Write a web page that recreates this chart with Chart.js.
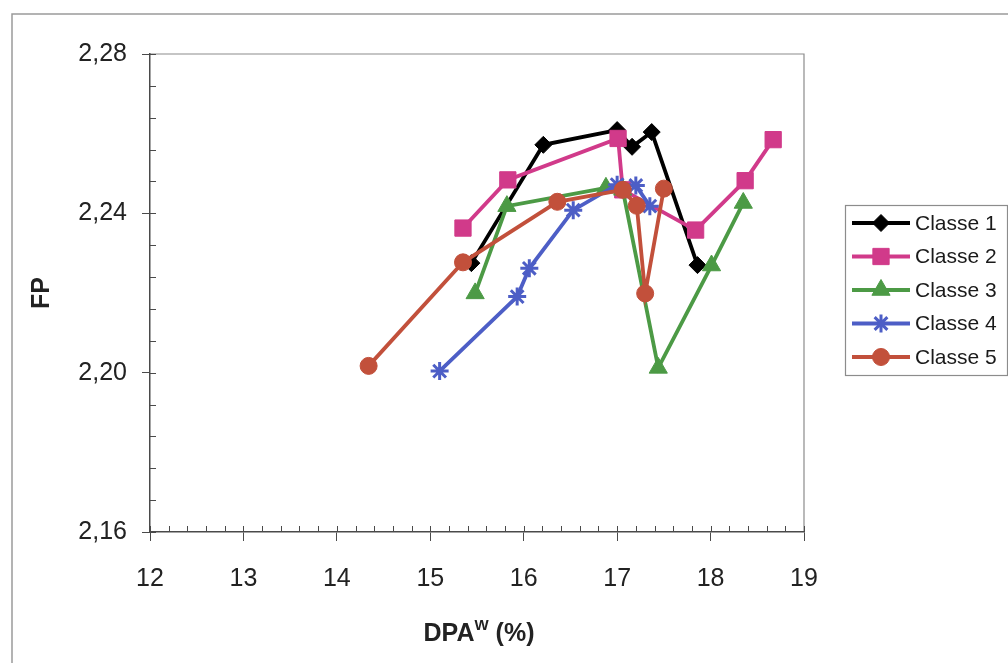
<!DOCTYPE html>
<html>
<head>
<meta charset="utf-8">
<style>
  html, body { margin: 0; padding: 0; background: #fff; }
  #wrap { width: 1008px; height: 663px; position: relative; }
</style>
<script src="https://cdn.jsdelivr.net/npm/chart.js@4/dist/chart.umd.min.js"></script>
</head>
<body>
<div id="wrap"><canvas id="c" width="1008" height="663"></canvas></div>
<script>
  // values (DPA^W in %, FP)
  const classe1X = [15.44, 16.21, 17.00, 17.16, 17.37, 17.86];
  const classe1Y = [2.2275, 2.2572, 2.2609, 2.2567, 2.2604, 2.2270];
  const classe2X = [15.35, 15.83, 17.01, 17.06, 17.84, 18.37, 18.67];
  const classe2Y = [2.2363, 2.2484, 2.2588, 2.2459, 2.2358, 2.2482, 2.2585];
  const classe3X = [15.48, 15.82, 16.88, 17.06, 17.44, 18.01, 18.35];
  const classe3Y = [2.2199, 2.2418, 2.2464, 2.2459, 2.2012, 2.2269, 2.2426];
  const classe4X = [15.10, 15.93, 16.06, 16.53, 17.00, 17.20, 17.35];
  const classe4Y = [2.2004, 2.2191, 2.2262, 2.2408, 2.2472, 2.2470, 2.2418];
  const classe5X = [14.34, 15.35, 16.36, 17.06, 17.21, 17.30, 17.50];
  const classe5Y = [2.2017, 2.2277, 2.2429, 2.2459, 2.2419, 2.2199, 2.2462];

  const seriesNames = ["Classe 1", "Classe 2", "Classe 3", "Classe 4", "Classe 5"];
  const xTicks = [12, 13, 14, 15, 16, 17, 18, 19];
  const yTicks = [2.16, 2.20, 2.24, 2.28];

  const FONT = "'Liberation Sans', Arial, sans-serif";
  const AXIS = "#4a4a4a";

  const pts = (xs, ys) => xs.map((x, i) => ({ x, y: ys[i] }));
  const styles = [
    { color: "#000000", shape: "rectRot", r: 8.5, bw: 1 },
    { color: "#d13a8a", shape: "rect", r: 11.5, bw: 1 },
    { color: "#4c9a45", shape: "triangle", r: 10.5, bw: 1 },
    { color: "#4d5ec6", shape: "star", r: 9, bw: 3 },
    { color: "#c2503b", shape: "circle", r: 8.5, bw: 1 },
  ];
  const raw = [[classe1X, classe1Y], [classe2X, classe2Y], [classe3X, classe3Y],
               [classe4X, classe4Y], [classe5X, classe5Y]];

  const datasets = raw.map(([xs, ys], i) => ({
    label: seriesNames[i],
    data: pts(xs, ys),
    borderColor: styles[i].color, backgroundColor: styles[i].color,
    borderWidth: 3.8, tension: 0,
    pointStyle: styles[i].shape, pointRadius: styles[i].r,
    pointBorderWidth: styles[i].bw,
    pointBackgroundColor: styles[i].color, pointBorderColor: styles[i].color,
    order: 5 - i,
  }));

  const fmt = (v) => v.toFixed(2).replace(".", ",");

  // frame, minor ticks, axis titles and legend
  const decor = {
    id: "decor",
    beforeDraw(chart) {
      const c = chart.ctx;
      c.save();
      c.fillStyle = "#fff";
      c.fillRect(0, 0, chart.width, chart.height);
      c.strokeStyle = "#9a9a9a"; c.lineWidth = 1.5;
      c.beginPath();
      c.moveTo(12, chart.height); c.lineTo(12, 14); c.lineTo(chart.width, 14);
      c.stroke();
      const a = chart.chartArea;
      c.strokeStyle = "#8c8c8c"; c.lineWidth = 1.2;
      c.beginPath();
      c.moveTo(a.left, a.top); c.lineTo(a.right, a.top); c.lineTo(a.right, a.bottom);
      c.stroke();
      c.restore();
    },
    afterDraw(chart) {
      const c = chart.ctx, a = chart.chartArea;
      const xs = chart.scales.x, ys = chart.scales.y;
      c.save();
      c.strokeStyle = AXIS; c.lineWidth = 1;
      c.beginPath();
      for (let v = 12; v <= 19.001; v += 0.2) {
        const px = Math.round(xs.getPixelForValue(v)) + 0.5;
        c.moveTo(px, a.bottom); c.lineTo(px, a.bottom - 6);
      }
      for (let k = 0; k <= 15; k++) {
        const py = Math.round(ys.getPixelForValue(2.16 + k * 0.008)) + 0.5;
        c.moveTo(a.left, py); c.lineTo(a.left + 6, py);
      }
      c.stroke();

      // axis titles
      c.fillStyle = "#222";
      c.textBaseline = "alphabetic";
      const big = "bold 25px " + FONT, small = "bold 15px " + FONT;
      c.font = big;
      const w1 = c.measureText("DPA").width, w3 = c.measureText(" (%)").width;
      c.font = small;
      const w2 = c.measureText("W").width;
      let tx = (a.left + a.right) / 2 - (w1 + w2 + w3) / 2 + 2;
      const base = 641;
      c.font = big; c.textAlign = "left";
      c.fillText("DPA", tx, base); tx += w1;
      c.font = small; c.fillText("W", tx, base - 11); tx += w2;
      c.font = big; c.fillText(" (%)", tx, base);
      c.save();
      c.translate(49, (a.top + a.bottom) / 2);
      c.rotate(-Math.PI / 2);
      c.textAlign = "center";
      c.fillText("FP", 0, 0);
      c.restore();

      // legend
      const lx = 845, ly = 205, lw = 162, lh = 170;
      c.fillStyle = "#fff";
      c.fillRect(lx, ly, lw, lh);
      c.strokeStyle = "#8c8c8c"; c.lineWidth = 1.2;
      c.strokeRect(lx + 0.5, ly + 0.5, lw, lh);
      chart.data.datasets.forEach((d, i) => {
        const y = 223 + i * 33.5;
        c.strokeStyle = d.borderColor; c.lineWidth = 3.8;
        c.beginPath(); c.moveTo(852, y); c.lineTo(910, y); c.stroke();
        c.fillStyle = d.borderColor;
        c.lineWidth = d.pointBorderWidth;
        Chart.helpers.drawPoint(c, { pointStyle: d.pointStyle, radius: d.pointRadius,
          borderWidth: d.pointBorderWidth, rotation: 0 }, 881, y);
        c.fillStyle = "#1a1a1a";
        c.font = "21px " + FONT; c.textAlign = "left"; c.textBaseline = "middle";
        c.fillText(d.label, 915, y + 1);
      });
      c.restore();
    },
  };

  new Chart(document.getElementById("c"), {
    type: "line",
    data: { datasets },
    options: {
      responsive: false, animation: false, devicePixelRatio: 1,
      layout: { padding: { top: 54, right: 204, left: 0, bottom: 0 } },
      plugins: { legend: { display: false }, tooltip: { enabled: false } },
      scales: {
        x: {
          type: "linear", min: 12, max: 19,
          afterBuildTicks: (s) => { s.ticks = xTicks.map((v) => ({ value: v })); },
          afterFit: (s) => { s.height = 131; },
          ticks: { font: { size: 25, family: FONT }, color: "#222", padding: 23, maxRotation: 0 },
          grid: { drawOnChartArea: false, tickLength: 9, color: AXIS },
          border: { color: AXIS, width: 1.5 },
        },
        y: {
          type: "linear", min: 2.16, max: 2.28,
          afterBuildTicks: (s) => { s.ticks = yTicks.map((v) => ({ value: v })); },
          afterFit: (s) => { s.width = 150; },
          ticks: { font: { size: 25, family: FONT }, color: "#222", padding: 15,
                   callback: (v) => fmt(v) },
          grid: { drawOnChartArea: false, tickLength: 8, color: AXIS },
          border: { color: AXIS, width: 1.5 },
        },
      },
    },
    plugins: [decor],
  });
</script>
</body>
</html>
